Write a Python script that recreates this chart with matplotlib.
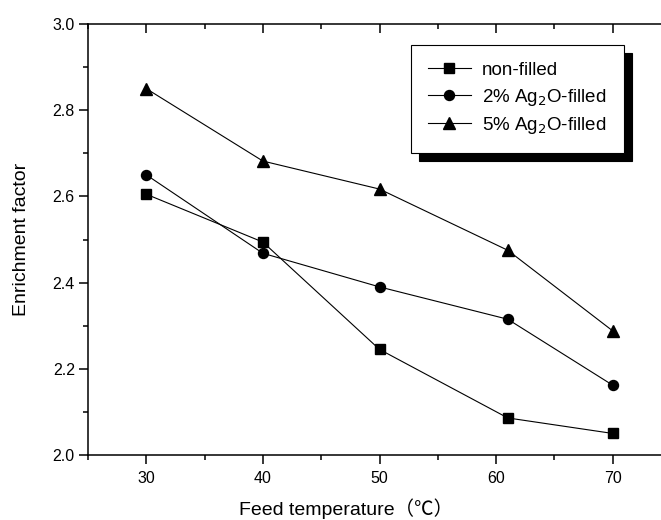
import matplotlib
matplotlib.use("Agg")
import matplotlib.pyplot as plt
from matplotlib.ticker import MultipleLocator

plt.rcParams["font.family"] = ["Liberation Sans", "Noto Sans CJK SC"]

temps = [30, 40, 50, 61, 70]
non_filled = [2.605, 2.494, 2.245, 2.086, 2.050]
ag2o_2 = [2.650, 2.468, 2.390, 2.315, 2.162]
ag2o_5 = [2.850, 2.682, 2.617, 2.475, 2.288]

labels = ["non-filled", "2% Ag$_2$O-filled", "5% Ag$_2$O-filled"]
markers = ["s", "o", "^"]
msizes = [6.5, 7.2, 8.5]

W, H = 661, 520
fig = plt.figure(figsize=(W / 100, H / 100), dpi=100)
# axes run past the right edge of the picture, as in the original crop
left, right, top, bottom = 88, 671, 24, 455
ax = fig.add_axes([left / W, 1 - bottom / H, (right - left) / W, (bottom - top) / H])

for ys, lab, m, ms in zip([non_filled, ag2o_2, ag2o_5], labels, markers, msizes):
    ax.plot(temps, ys, color="black", lw=0.8, marker=m, markersize=ms,
            markerfacecolor="black", markeredgecolor="black", label=lab)

ax.set_xlim(25, 75)
ax.set_ylim(2.0, 3.0)
ax.xaxis.set_major_locator(MultipleLocator(10))
ax.xaxis.set_minor_locator(MultipleLocator(5))
ax.yaxis.set_major_locator(MultipleLocator(0.2))
ax.yaxis.set_minor_locator(MultipleLocator(0.1))
ax.yaxis.set_major_formatter(plt.FuncFormatter(lambda v, p: f"{v:.1f}"))
ax.tick_params(which="both", direction="out", labelsize=11.5, width=1.1)
ax.tick_params(which="major", length=6.5)
ax.tick_params(which="minor", length=3.6)
ax.tick_params(axis="y", pad=3)
ax.tick_params(axis="x", pad=5)
# top axis: inward ticks, no labels
ax.xaxis.set_tick_params(which="both", top=True)
for t in ax.xaxis.get_major_ticks() + ax.xaxis.get_minor_ticks():
    t.tick2line.set_marker(3)
ax.spines["right"].set_visible(False)
for s in ["left", "bottom", "top"]:
    ax.spines[s].set_linewidth(1.1)

ax.set_xlabel("Feed temperature（℃）", fontsize=14)
ax.xaxis.set_label_coords((346 - left) / (right - left), (bottom - 498) / (bottom - top))
ax.set_ylabel("Enrichment factor", fontsize=14)
ax.yaxis.set_label_coords((30 - left) / (right - left), 0.5)

leg = ax.legend(loc="upper left", bbox_to_anchor=(411 / W, 1 - 45 / H),
                bbox_transform=fig.transFigure, borderaxespad=0,
                fontsize=13.5, frameon=True, fancybox=False, handlelength=2.3,
                borderpad=0.9, labelspacing=0.4, handletextpad=0.6,
                shadow={"ox": 5.8, "oy": -5.8, "facecolor": "black",
                        "edgecolor": "black", "alpha": 1})
leg.get_frame().set_edgecolor("black")
leg.get_frame().set_linewidth(0.8)
leg.get_frame().set_alpha(1)

fig.savefig("out.png", dpi=100)
